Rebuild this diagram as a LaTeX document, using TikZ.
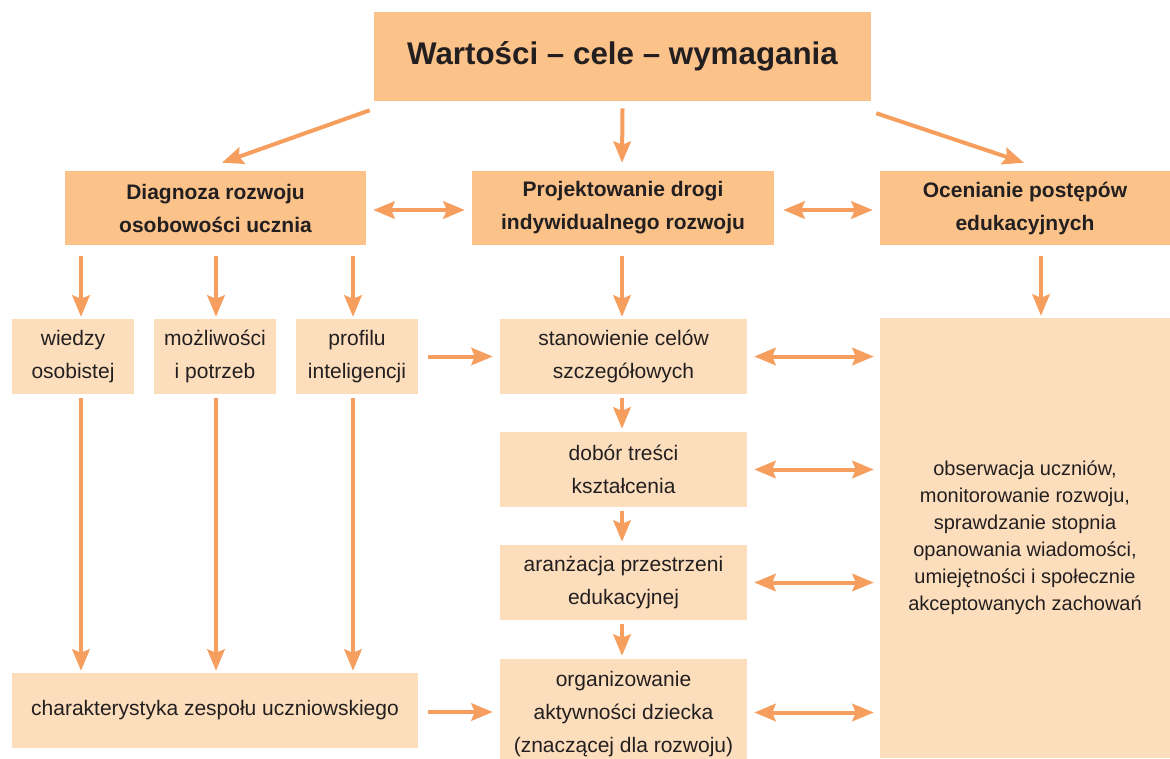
\documentclass[tikz,border=0pt]{standalone}
\usepackage{fontspec}
\setmainfont{Liberation Sans}
\usetikzlibrary{arrows.meta,calc}
\definecolor{darkbox}{HTML}{FBC28A}
\definecolor{lightbox}{HTML}{FDDEBC}
\definecolor{arrowc}{HTML}{F59E5E}
\definecolor{txt}{HTML}{231F20}
\newcommand\mybox[7]{\node[#6, inner sep=0pt, minimum width={(#4-#2)*0.75pt}, minimum height={(#5-#3)*0.75pt}] (#1) at ({(#2+#4)/2},{(#3+#5)/2}) {#7};}
\begin{document}
\begin{tikzpicture}[x=0.75pt,y=-0.75pt,
  dark/.style={fill=darkbox, text=txt, align=center, font=\fontsize{15.75}{24.75}\selectfont\bfseries},
  light/.style={fill=lightbox, text=txt, align=center, font=\fontsize{15.75}{24.75}\selectfont},
  tipA/.tip={Stealth[length=16pt,width=13pt,inset=2.5pt]},
  arr/.style={draw=arrowc, line width=3pt, -tipA},
  darr/.style={draw=arrowc, line width=3pt, tipA-tipA}]
\useasboundingbox (0,0) rectangle (1170,758);
\mybox{top}{374}{12}{871}{101}{dark, font=\fontsize{23.5}{28}\selectfont\bfseries}{Wartości – cele – wymagania}
\mybox{diag}{65}{171}{366}{245}{dark}{Diagnoza rozwoju\\osobowości ucznia}
\mybox{proj}{472}{171}{774}{245}{dark}{Projektowanie drogi\\indywidualnego rozwoju}
\mybox{ocen}{880}{171}{1170}{245}{dark}{Ocenianie postępów\\edukacyjnych}
\mybox{wiedzy}{12}{319}{134}{394}{light}{wiedzy\\osobistej}
\mybox{mozl}{154}{319}{276}{394}{light}{możliwości\\i potrzeb}
\mybox{prof}{296}{319}{418}{394}{light}{profilu\\inteligencji}
\mybox{stan}{500}{319}{747}{394}{light}{stanowienie celów\\szczegółowych}
\mybox{dob}{500}{432}{747}{507}{light}{dobór treści\\kształcenia}
\mybox{ara}{500}{545}{747}{620}{light}{aranżacja przestrzeni\\edukacyjnej}
\mybox{org}{500}{659}{747}{770}{light}{organizowanie\\aktywności dziecka\\(znaczącej dla rozwoju)}
\mybox{char}{12}{673}{418}{748}{light}{charakterystyka zespołu uczniowskiego}
\mybox{big}{880}{318}{1170}{758}{light, font=\fontsize{15}{20.25}\selectfont}{obserwacja uczniów,\\monitorowanie rozwoju,\\sprawdzanie stopnia\\opanowania wiadomości,\\umiejętności i społecznie\\akceptowanych zachowań}
% top arrows
\draw[arr] ($(top.south west)+(-4,9)$) -- ($(diag.north)+(6.5,-8)$);
\draw[arr] ($(top.south)+(0,7)$) -- ($(proj.north)+(-1,-8)$);
\draw[arr] ($(top.south east)+(5,12)$) -- ($(ocen.north)+(-1,-8)$);
% row 2 double arrows
\draw[darr] ($(diag.east)+(7,2)$) -- ($(proj.west)+(-7,2)$);
\draw[darr] ($(proj.east)+(9,2)$) -- ($(ocen.west)+(-7,2)$);
% diag down
\draw[arr] ($(diag.south -| wiedzy.north)+(8,11)$) -- ($(wiedzy.north)+(8,-2)$);
\draw[arr] ($(diag.south -| mozl.north)+(1,11)$) -- ($(mozl.north)+(1,-2)$);
\draw[arr] ($(diag.south -| prof.north)+(-4,11)$) -- ($(prof.north)+(-4,-2)$);
% long lines
\draw[arr] ($(wiedzy.south)+(8,4)$) -- ($(char.north -| wiedzy.south)+(8,-2)$);
\draw[arr] ($(mozl.south)+(1,4)$) -- ($(char.north -| mozl.south)+(1,-2)$);
\draw[arr] ($(prof.south)+(-4,4)$) -- ($(char.north -| prof.south)+(-4,-2)$);
% middle column
\draw[arr] ($(proj.south)+(-1,11)$) -- ($(stan.north)+(-1.5,-2)$);
\draw[arr] ($(stan.south)+(-1.5,4)$) -- ($(dob.north)+(-1.5,-3)$);
\draw[arr] ($(dob.south)+(-1.5,4)$) -- ($(ara.north)+(-1.5,-3)$);
\draw[arr] ($(ara.south)+(-1.5,4)$) -- ($(org.north)+(-1.5,-3)$);
% right column
\draw[arr] ($(ocen.south)+(16,11)$) -- ($(big.north)+(16,-2)$);
% horizontals
\draw[arr] ($(prof.east)+(10,0)$) -- ($(stan.west)+(-7,0)$);
\draw[arr] ($(char.east)+(10,1.5)$) -- ($(char.east -| org.west)+(-7,1.5)$);
\draw[darr] ($(stan.east)+(7,0)$) -- ($(stan.east -| big.west)+(-6,0)$);
\draw[darr] ($(dob.east)+(7,0)$) -- ($(dob.east -| big.west)+(-6,0)$);
\draw[darr] ($(ara.east)+(7,0)$) -- ($(ara.east -| big.west)+(-6,0)$);
\draw[darr] ($(org.east)+(7,-2)$) -- ($(org.east -| big.west)+(-6,-2)$);
\end{tikzpicture}
\end{document}
